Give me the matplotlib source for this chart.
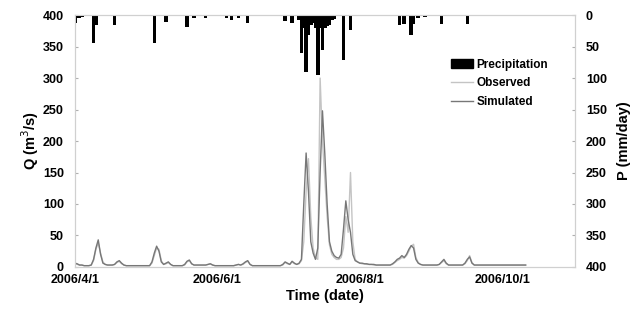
import numpy as np
import pandas as pd
import matplotlib
matplotlib.use('Agg')
import matplotlib.pyplot as plt
from matplotlib.patches import Patch
from matplotlib.lines import Line2D

plt.rcParams['font.family'] = ['Liberation Sans', 'DejaVu Sans']

# Daily discharge (m3/s), starting 2006/4/1
start_date = '2006-04-01'
q_sim = [6, 5, 3, 3, 2, 2, 2, 3, 12, 30,
         43, 20, 6, 4, 3, 3, 3, 4, 8, 10,
         6, 3, 2, 2, 2, 2, 2, 2, 2, 2,
         2, 2, 2, 8, 22, 33, 25, 8, 4, 6,
         8, 4, 2, 2, 2, 2, 2, 4, 9, 11,
         5, 3, 3, 3, 3, 3, 3, 4, 5, 3,
         2, 2, 2, 2, 2, 2, 2, 2, 2, 3,
         4, 3, 5, 8, 10, 4, 2, 2, 2, 2,
         2, 2, 2, 2, 2, 2, 2, 2, 2, 4,
         8, 6, 4, 9, 6, 4, 6, 12, 100, 181,
         120, 40, 22, 12, 30, 150, 248, 180, 100, 40,
         25, 18, 15, 14, 20, 60, 105, 75, 55, 20,
         10, 8, 6, 6, 5, 5, 4, 4, 4, 3,
         3, 3, 3, 3, 3, 3, 5, 8, 12, 14,
         18, 15, 20, 28, 34, 30, 12, 6, 4, 3,
         3, 3, 3, 3, 3, 3, 4, 8, 12, 6,
         3, 3, 3, 3, 3, 3, 3, 6, 12, 16,
         6, 3, 3, 3, 3, 3, 3, 3, 3, 3,
         3, 3, 3, 3, 3, 3, 3, 3, 3, 3,
         3, 3, 3, 3]
q_obs = [5, 4, 3, 3, 2, 2, 2, 3, 10, 28,
         38, 22, 8, 4, 3, 3, 3, 4, 7, 9,
         5, 3, 2, 2, 2, 2, 2, 2, 2, 2,
         2, 2, 2, 6, 18, 30, 28, 10, 4, 5,
         7, 4, 2, 2, 2, 2, 2, 3, 8, 10,
         5, 3, 3, 3, 3, 3, 3, 4, 5, 3,
         2, 2, 2, 2, 2, 2, 2, 2, 2, 3,
         4, 3, 4, 7, 9, 4, 2, 2, 2, 2,
         2, 2, 2, 2, 2, 2, 2, 2, 2, 3,
         7, 5, 4, 8, 5, 4, 5, 10, 40, 120,
         172, 80, 30, 15, 12, 300, 200, 140, 80, 35,
         20, 15, 12, 12, 15, 30, 80, 55, 150, 40,
         12, 8, 6, 5, 5, 4, 4, 4, 3, 3,
         3, 3, 3, 3, 3, 3, 4, 7, 10, 12,
         15, 14, 18, 25, 33, 36, 15, 7, 4, 3,
         3, 3, 3, 3, 3, 3, 4, 7, 10, 5,
         3, 3, 3, 3, 3, 3, 3, 5, 10, 18,
         7, 3, 3, 3, 3, 3, 3, 3, 3, 3,
         3, 3, 3, 3, 3, 3, 3, 3, 3, 3,
         3, 3, 3, 3]

# Precipitation (mm/day) on rainy days
p_dates = ['2006-04-01', '2006-04-02', '2006-04-03', '2006-04-04', '2006-04-09',
           '2006-04-10', '2006-04-18', '2006-05-05', '2006-05-10', '2006-05-19',
           '2006-05-22', '2006-05-27', '2006-06-05', '2006-06-07', '2006-06-10',
           '2006-06-14', '2006-06-30', '2006-07-03', '2006-07-06', '2006-07-07',
           '2006-07-08', '2006-07-09', '2006-07-10', '2006-07-11', '2006-07-12',
           '2006-07-13', '2006-07-14', '2006-07-15', '2006-07-16', '2006-07-17',
           '2006-07-18', '2006-07-19', '2006-07-20', '2006-07-21', '2006-07-25',
           '2006-07-28', '2006-08-18', '2006-08-20', '2006-08-23', '2006-08-24',
           '2006-08-26', '2006-08-29', '2006-09-05', '2006-09-16']
p_vals = [12, 4, 4, 3, 45,
          15, 16, 45, 11, 19,
          4, 4, 4, 8, 5,
          13, 10, 12, 8, 60,
          20, 90, 32, 15, 12,
          20, 95, 20, 55, 20,
          18, 15, 8, 6, 72,
          24, 16, 14, 32, 14,
          5, 3, 14, 14]

tick_dates = ['2006-04-01', '2006-06-01', '2006-08-01', '2006-10-01']
tick_labels = ['2006/4/1', '2006/6/1', '2006/8/1', '2006/10/1']

dates = pd.date_range(start_date, periods=len(q_sim), freq='D')
p_dt = pd.to_datetime(p_dates)

fig = plt.figure(figsize=(6.4, 3.22), dpi=100)
ax = fig.add_axes([0.117, 0.171, 0.781, 0.782])

ax.plot(dates, q_obs, color='#c4c4c4', linewidth=1.0, label='Observed')
ax.plot(dates, q_sim, color='#777777', linewidth=1.0, label='Simulated')
ax.set_ylim(0, 400)
ax.set_yticks(np.arange(0, 401, 50))
ax.set_xlim(pd.Timestamp('2006-04-01'), pd.Timestamp('2006-11-01'))
ax.set_xticks(pd.to_datetime(tick_dates))
ax.set_xticklabels(tick_labels)

ax2 = ax.twinx()
ax2.bar(p_dt, p_vals, width=1.5, color='black', label='Precipitation')
ax2.set_ylim(400, 0)
ax2.set_yticks(np.arange(0, 401, 50))

for a in (ax, ax2):
    for s in a.spines.values():
        s.set_color('#d0d0d0')
        s.set_linewidth(0.8)
    a.tick_params(direction='in', length=2, color='#b0b0b0', labelsize=9, pad=8)
    for lab in a.get_xticklabels() + a.get_yticklabels():
        lab.set_fontweight('bold')
ax.tick_params(axis='x', length=0, pad=5)

ax.set_xlabel('Time (date)', fontsize=10.5, fontweight='bold', labelpad=2)
ax.set_ylabel('Q (m$^3$/s)', fontsize=10.5, fontweight='bold', labelpad=1)
ax2.set_ylabel('P (mm/day)', fontsize=10.5, fontweight='bold', labelpad=7)

handles = [Patch(facecolor='black', edgecolor='black'),
           Line2D([], [], color='#c4c4c4', linewidth=1.0),
           Line2D([], [], color='#777777', linewidth=1.0)]
ax2.legend(handles, ['Precipitation', 'Observed', 'Simulated'],
           loc='upper left', bbox_to_anchor=(0.735, 0.86), frameon=False,
           handlelength=1.9, handletextpad=0.3, labelspacing=0.55,
           borderpad=0.2, prop={'weight': 'bold', 'size': 8.5})

fig.savefig('out.png', dpi=100)
